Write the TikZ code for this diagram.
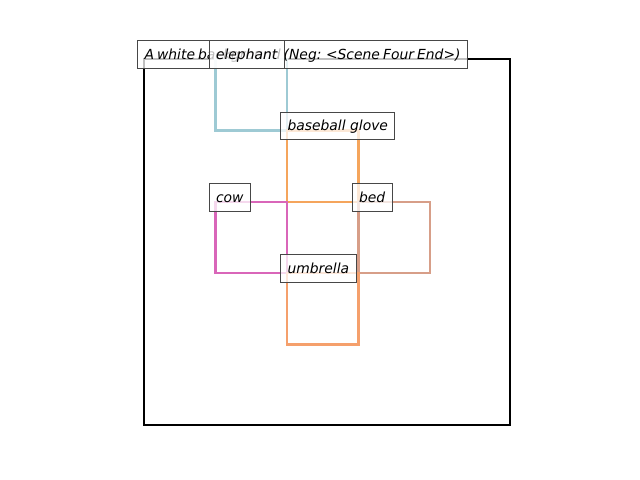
\documentclass[tikz,border=0pt]{standalone}
\usepackage{fontspec}
\setmainfont{DejaVu Sans}
\usepackage{tikz}
\usetikzlibrary{positioning}
\definecolor{elephantstroke}{HTML}{9ECAD4}
\definecolor{glovestroke}{HTML}{F5A55C}
\definecolor{cowstroke}{HTML}{D966B9}
\definecolor{bedstroke}{HTML}{D79E88}
\definecolor{umbrellastroke}{HTML}{F5A06C}

\begin{document}
\begin{tikzpicture}[x=0.72pt, y=-0.72pt,
  tag/.style={draw=black!72, fill=white, fill opacity=0.75, text opacity=1,
    font=\itshape, anchor=base west, xshift=-5pt, inner xsep=5pt,
    inner ysep=4pt, text height=9pt, text depth=2.5pt, line width=0.75pt},
  objbox/.style={line width=1.6pt}]
  \useasboundingbox (0,0) rectangle (640,480);
  % scene frame
  \draw[line width=1.5pt] (144,59) rectangle (510,425);
  % object boxes
  \draw[objbox, elephantstroke] (215.5,59) rectangle (287,130.5);
  \draw[objbox, glovestroke] (287,130.5) rectangle (358.5,202);
  \draw[objbox, cowstroke] (215.5,202) rectangle (287,273);
  \draw[objbox, bedstroke] (358.5,202) rectangle (430,273);
  \draw[objbox, umbrellastroke] (287,273) rectangle (358.5,344.5);
  % labels
  \node[tag] (scene) at (144,59) {\spaceskip=2.2pt A white background (Neg: <Scene Four End>)};
  \node[tag] (elephant) at (215.5,59) {elephant};
  \node[tag] (glove) at (287,130.5) {baseball glove};
  \node[tag] (cow) at (215.5,202) {cow};
  \node[tag] (bed) at (358.5,202) {bed};
  \node[tag] (umbrella) at (287,273) {umbrella};
\end{tikzpicture}
\end{document}
